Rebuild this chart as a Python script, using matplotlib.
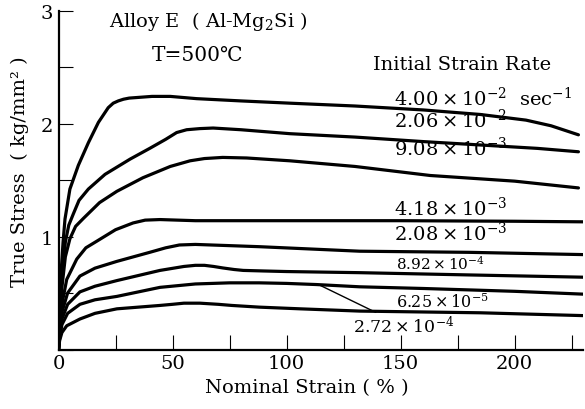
import numpy as np
import matplotlib
matplotlib.use('Agg')
import matplotlib.pyplot as plt

plt.rcParams['font.family'] = ['DejaVu Serif', 'DejaVu Sans']
plt.rcParams['mathtext.fontset'] = 'custom'
plt.rcParams['mathtext.rm'] = 'DejaVu Serif'
plt.rcParams['mathtext.it'] = 'DejaVu Serif'

# strain (%) and true stress (kg/mm2), one pair per strain rate
x1 = [0, 0.5, 1.2, 2.0, 2.85, 5, 8.7, 13.1, 17.5, 21.8, 24, 26.2, 28.5, 31, 41, 49, 60.6, 80, 101.5, 130, 160, 185, 205, 216, 228]
y1 = [0, 0.35, 0.7, 0.95, 1.155, 1.42, 1.63, 1.83, 2.01, 2.14, 2.18, 2.20, 2.215, 2.225, 2.24, 2.24, 2.22, 2.20, 2.18, 2.155, 2.12, 2.08, 2.03, 1.98, 1.90]

x2 = [0, 0.5, 1.5, 3, 4.5, 6.5, 9, 13.1, 20.4, 31.4, 40, 47, 51.8, 56.2, 62, 67.8, 80, 101.5, 130, 160, 185, 210, 228]
y2 = [0, 0.3, 0.65, 0.95, 1.1, 1.2, 1.32, 1.42, 1.55, 1.685, 1.78, 1.86, 1.92, 1.945, 1.955, 1.96, 1.945, 1.91, 1.88, 1.84, 1.81, 1.78, 1.75]

x3 = [0, 0.5, 1.5, 3, 5, 7.5, 10.9, 18, 25.6, 37, 49, 57.7, 64, 72, 82.5, 101.5, 130, 163, 200, 228]
y3 = [0, 0.25, 0.55, 0.82, 0.98, 1.09, 1.16, 1.30, 1.40, 1.52, 1.62, 1.67, 1.69, 1.70, 1.695, 1.67, 1.62, 1.54, 1.49, 1.43]

x4 = [0, 0.5, 1.5, 3.6, 8, 12, 16.9, 25, 32.7, 38, 44.5, 60, 100, 150, 200, 230]
y4 = [0, 0.2, 0.4, 0.62, 0.80, 0.90, 0.96, 1.06, 1.12, 1.145, 1.15, 1.14, 1.14, 1.14, 1.135, 1.13]

x5 = [0, 0.5, 1.5, 4, 9.4, 16, 25.6, 40, 47, 53, 60, 88, 132, 180, 230]
y5 = [0, 0.15, 0.33, 0.5, 0.65, 0.72, 0.78, 0.86, 0.90, 0.925, 0.93, 0.91, 0.87, 0.86, 0.84]

x6 = [0, 0.5, 1.5, 4, 9.4, 16, 25.6, 44.5, 55, 60, 64, 68, 72, 77, 81, 90, 100, 132, 180, 230]
y6 = [0, 0.12, 0.27, 0.40, 0.51, 0.56, 0.61, 0.70, 0.735, 0.745, 0.745, 0.735, 0.722, 0.708, 0.70, 0.695, 0.69, 0.68, 0.66, 0.64]

x7 = [0, 0.5, 1.5, 4, 9.4, 16, 25.6, 44.5, 60, 75, 88, 100, 113, 132, 160, 200, 230]
y7 = [0, 0.1, 0.22, 0.32, 0.40, 0.44, 0.47, 0.55, 0.58, 0.59, 0.59, 0.585, 0.575, 0.555, 0.54, 0.515, 0.49]

x8 = [0, 0.5, 1.5, 3.6, 9.4, 16, 25.6, 44.5, 50, 55, 62, 70, 76, 88, 106, 132, 185, 230]
y8 = [0, 0.08, 0.15, 0.21, 0.27, 0.32, 0.36, 0.39, 0.40, 0.41, 0.41, 0.40, 0.39, 0.375, 0.36, 0.34, 0.325, 0.30]

curves = [(x1, y1), (x2, y2), (x3, y3), (x4, y4), (x5, y5), (x6, y6), (x7, y7), (x8, y8)]

# strain rate labels: text, x, y (data coords), font size
rate_labels = [
    (r'$4.00\times10^{-2}$  sec$^{-1}$', 147, 2.23, 14),
    (r'$2.06\times10^{-2}$', 147, 2.04, 14),
    (r'$9.08\times10^{-3}$', 147, 1.79, 14),
    (r'$4.18\times10^{-3}$', 147, 1.26, 14),
    (r'$2.08\times10^{-3}$', 147, 1.04, 14),
    (r'$8.92\times10^{-4}$', 148, 0.77, 11),
    (r'$6.25\times10^{-5}$', 148, 0.42, 11.5),
]

fig = plt.figure(figsize=(5.85, 4.1), dpi=100)
ax = fig.add_axes([0.100, 0.1451, 0.8966, 0.8268])

for xs, ys in curves:
    ax.plot(xs, ys, color='black', lw=2.3, solid_capstyle='round', solid_joinstyle='round')

ax.set_xlim(0, 230)
ax.set_ylim(0, 3)
ax.spines['top'].set_visible(False)
ax.spines['right'].set_visible(False)
ax.spines['left'].set_linewidth(1.6)
ax.spines['bottom'].set_linewidth(1.6)

ax.set_xticks([0, 50, 100, 150, 200])
ax.set_xticks([25, 75, 125, 175, 225], minor=True)
ax.set_yticks([0, 1, 2, 3])
ax.set_yticks([0.5, 1.5, 2.5], minor=True)
ax.tick_params(axis='both', which='both', direction='in', width=0.8, labelsize=14)
ax.tick_params(axis='x', which='both', length=11, pad=3)
ax.tick_params(axis='y', which='both', length=10, pad=4)
ax.set_yticklabels(['', '1', '2', '3'])

for txt, x, y, fs in rate_labels:
    ax.text(x, y, txt, fontsize=fs, ha='left', va='center')

ax.text(138, 2.53, 'Initial Strain Rate', fontsize=14, ha='left', va='center')

# leader line for the 2.72e-4 curve
ax.annotate(r'$2.72\times10^{-4}$', xy=(114, 0.575), xytext=(129, 0.21),
            fontsize=12.5, ha='left', va='center',
            arrowprops=dict(arrowstyle='-', color='black', lw=1.0, shrinkA=0, shrinkB=0))

ax.text(22, 2.91, r'Alloy E  ( Al-Mg$_2$Si )', fontsize=14, ha='left', va='center')
ax.text(41, 2.61, 'T=500℃', fontsize=14.5, ha='left', va='center')

fig.text(20 / 585, 1 - 172 / 410, 'True Stress  ( kg/mm² )', rotation=90, fontsize=14,
         ha='center', va='center')
fig.text(307 / 585, 1 - 388 / 410, 'Nominal Strain ( % )', fontsize=14, ha='center', va='center')

fig.savefig('out.png', dpi=100)
